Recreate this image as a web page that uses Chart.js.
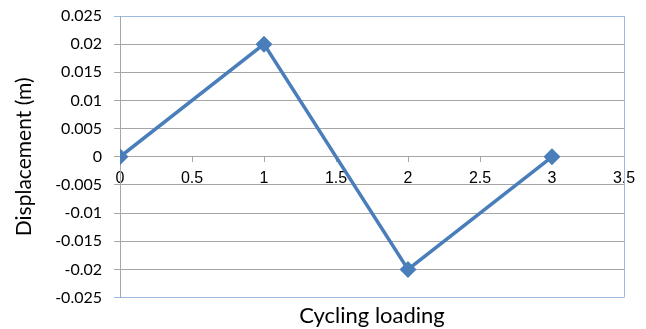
<!DOCTYPE html>
<html lang="en">
  <head>
    <meta charset="UTF-8" />
    <title>Displacement vs cycling loading</title>
    <script src="https://cdn.jsdelivr.net/npm/chart.js"></script>
    <style>
      html, body { margin: 0; padding: 0; background: #fff; }
      #wrap { width: 646px; height: 329px; }
    </style>
  </head>
  <body>
    <div id="wrap"><canvas id="grafica"></canvas></div>

    <script>
      // Data
      const cycles = [0, 1, 2, 3];
      const displacement = [0, 0.02, -0.02, 0];
      const xTicks = [0, 0.5, 1, 1.5, 2, 2.5, 3, 3.5];
      const yTicks = [-0.025, -0.02, -0.015, -0.01, -0.005, 0, 0.005, 0.01, 0.015, 0.02, 0.025];

      const lineBlue = "#4a7ebb";
      const frameBlue = "#9dbbe0";
      const gridGray = "#a6a6a6";

      // blue frame on the right side of the plot area
      const framePlugin = {
        id: "frame",
        afterDraw(chart) {
          const { ctx, chartArea: a } = chart;
          ctx.save();
          ctx.strokeStyle = frameBlue;
          ctx.lineWidth = 1;
          ctx.beginPath();
          ctx.moveTo(a.right + 0.5, a.top);
          ctx.lineTo(a.right + 0.5, a.bottom);
          ctx.stroke();
          ctx.restore();
        },
      };

      const ctx = document.getElementById("grafica").getContext("2d");
      new Chart(ctx, {
        type: "scatter",
        data: {
          datasets: [
            {
              data: cycles.map((c, i) => ({ x: c, y: displacement[i] })),
              showLine: true,
              borderColor: lineBlue,
              backgroundColor: lineBlue,
              borderWidth: 3.5,
              pointStyle: "rectRot",
              pointRadius: 6,
              pointHoverRadius: 6,
            },
          ],
        },
        options: {
          responsive: true,
          maintainAspectRatio: false,
          animation: false,
          layout: { padding: { top: 16, right: 22, left: 0, bottom: 0 } },
          plugins: {
            legend: { display: false },
            tooltip: { enabled: false },
            title: {
              display: true,
              position: "bottom",
              fullSize: false,
              text: "Cycling loading",
              color: "#000",
              font: { family: "Lato", size: 22, weight: "normal" },
              padding: { top: 5, bottom: 0 },
            },
          },
          scales: {
            x: {
              type: "linear",
              position: { y: 0 },
              min: 0,
              max: 3.5,
              afterBuildTicks: (s) => { s.ticks = xTicks.map((v) => ({ value: v })); },
              afterFit: (s) => { s.paddingLeft = 0; s.paddingRight = 0; },
              border: { color: gridGray, width: 1 },
              grid: { drawOnChartArea: false, drawTicks: true, tickLength: 5, color: gridGray },
              ticks: {
                color: "#000",
                padding: 7,
                maxRotation: 0,
                font: { family: "Liberation Sans", size: 16 },
                callback: (v) => String(v),
              },
            },
            y: {
              type: "linear",
              min: -0.025,
              max: 0.025,
              afterBuildTicks: (s) => { s.ticks = yTicks.map((v) => ({ value: v })); },
              afterFit: (s) => { s.width = 120; s.paddingTop = 0; s.paddingBottom = 0; },
              border: { color: gridGray, width: 1 },
              grid: {
                tickLength: 6,
                color: (c) => (c.tick && Math.abs(Math.abs(c.tick.value) - 0.025) < 1e-9 ? frameBlue : gridGray),
              },
              ticks: {
                color: "#000",
                padding: 12,
                font: { family: "Lato", size: 16 },
                callback: (v) => String(parseFloat(v.toFixed(3))),
              },
              title: {
                display: true,
                text: "Displacement (m)",
                color: "#000",
                font: { family: "Lato", size: 21, weight: "normal" },
                padding: { top: 12, bottom: 0 },
              },
            },
          },
        },
        plugins: [framePlugin],
      });
    </script>
  </body>
</html>
